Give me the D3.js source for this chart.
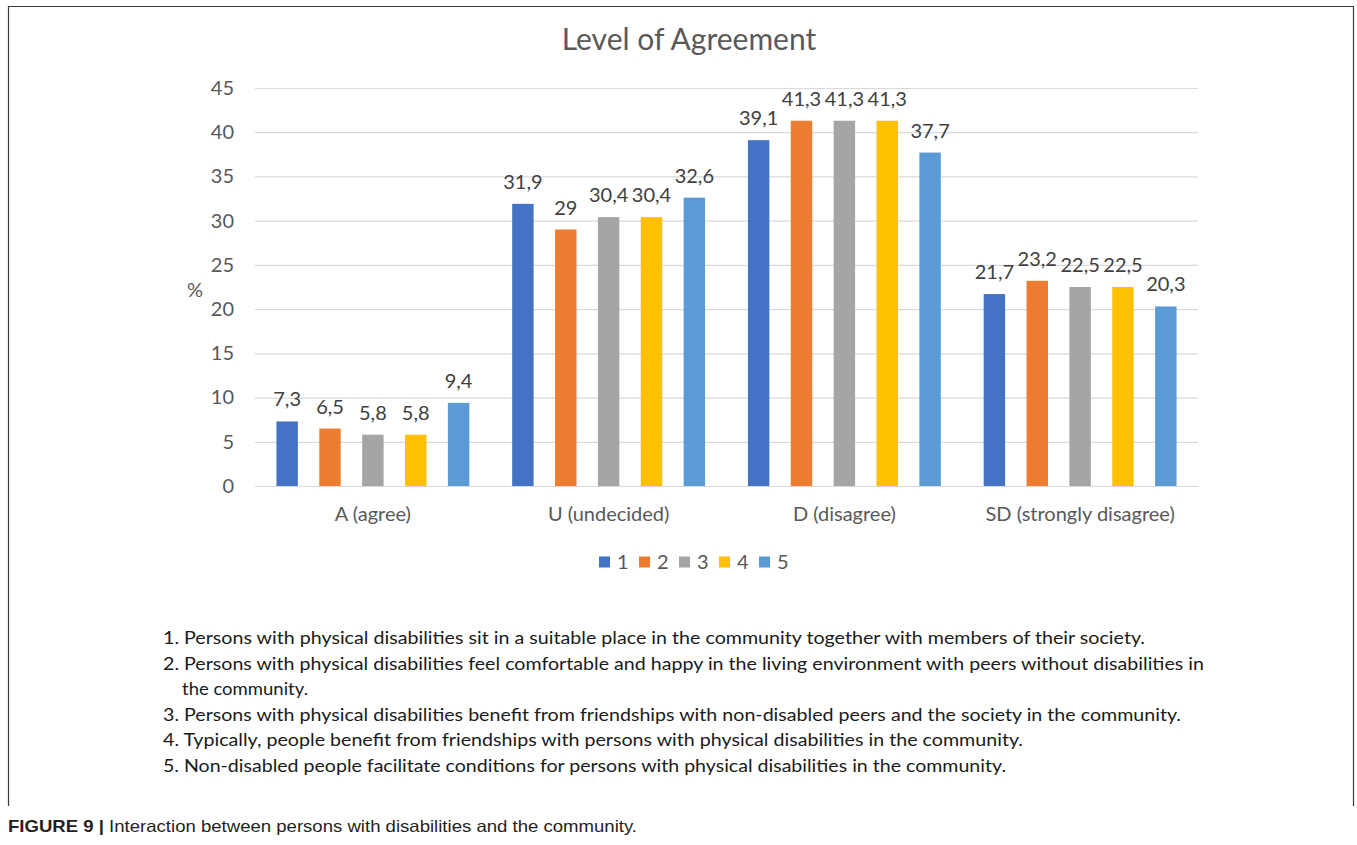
<!DOCTYPE html>
<html>
<head>
<meta charset="utf-8">
<script src="https://cdn.jsdelivr.net/npm/d3@7/dist/d3.min.js"></script>
<style>
  html, body { margin: 0; padding: 0; background: #fff; }
  svg { display: block; }
</style>
</head>
<body>
<script>
// Response categories on the x axis
const categories = ["A (agree)", "U (undecided)", "D (disagree)", "SD (strongly disagree)"];
// Statement numbers (legend / series)
const seriesNames = ["1", "2", "3", "4", "5"];
// Percentages per statement, one value per category
const statement1 = [7.3, 31.9, 39.1, 21.7];
const statement2 = [6.5, 29, 41.3, 23.2];
const statement3 = [5.8, 30.4, 41.3, 22.5];
const statement4 = [5.8, 30.4, 41.3, 22.5];
const statement5 = [9.4, 32.6, 37.7, 20.3];
const yTicks = [0, 5, 10, 15, 20, 25, 30, 35, 40, 45];
const colors = ["#4472C4", "#ED7D31", "#A5A5A5", "#FFC000", "#5B9BD5"];

const statementTexts = [
  ["1. ", "Persons with physical disabilities sit in a suitable place in the community together with members of their society."],
  ["2. ", "Persons with physical disabilities feel comfortable and happy in the living environment with peers without disabilities in"],
  ["", "the community."],
  ["3. ", "Persons with physical disabilities benefit from friendships with non-disabled peers and the society in the community."],
  ["4. ", "Typically, people benefit from friendships with persons with physical disabilities in the community."],
  ["5. ", "Non-disabled people facilitate conditions for persons with physical disabilities in the community."]
];

const series = [statement1, statement2, statement3, statement4, statement5];
const table = categories.map((c, i) => ({
  category: c,
  values: series.map((s, j) => ({ key: seriesNames[j], value: s[i], color: colors[j] }))
}));

const W = 1357, H = 845;
const svg = d3.select("body").append("svg").attr("width", W).attr("height", H);

const FONT = "Lato, 'Open Sans', sans-serif";
const AXIS_COLOR = "#595959";
const LABEL_SIZE = 20;

// Frame around the figure
svg.append("path")
  .attr("d", "M8.5,806 V6.5 H1353.5 V806")
  .attr("fill", "none")
  .attr("stroke", "#3a3a3a")
  .attr("stroke-width", 1.2);

const plot = { left: 255, right: 1198, top: 88, bottom: 486 };

const x0 = d3.scaleBand().domain(categories).range([plot.left, plot.right]).padding(0);
const x1 = d3.scaleBand().domain(seriesNames).range([0, x0.bandwidth()]).paddingInner(0.5).paddingOuter(0.5);
const y = d3.scaleLinear().domain([0, 45]).range([plot.bottom, plot.top]);

// Title
svg.append("text")
  .attr("x", 689).attr("y", 50)
  .attr("text-anchor", "middle")
  .attr("font-family", FONT).attr("font-size", 30)
  .attr("fill", AXIS_COLOR)
  .text("Level of Agreement");

// Y axis with gridlines
const yAxis = svg.append("g")
  .attr("transform", `translate(${plot.left},0)`)
  .call(d3.axisLeft(y).tickValues(yTicks).tickSize(-(plot.right - plot.left)).tickPadding(21));
yAxis.select(".domain").remove();
yAxis.selectAll(".tick line").attr("stroke", "#d9d9d9").attr("stroke-width", 1.2);
yAxis.selectAll(".tick text")
  .attr("font-family", FONT).attr("font-size", LABEL_SIZE).attr("fill", AXIS_COLOR);

// Y axis title
svg.append("text")
  .attr("x", 195).attr("y", 297)
  .attr("text-anchor", "middle")
  .attr("font-family", FONT).attr("font-size", LABEL_SIZE)
  .attr("fill", AXIS_COLOR)
  .text("%");

// Bars
const groups = svg.append("g").selectAll("g")
  .data(table).join("g")
  .attr("transform", d => `translate(${x0(d.category)},0)`);

groups.selectAll("rect")
  .data(d => d.values).join("rect")
  .attr("x", d => x1(d.key))
  .attr("width", x1.bandwidth())
  .attr("y", d => y(d.value))
  .attr("height", d => y(0) - y(d.value))
  .attr("fill", d => d.color);

// Value labels
const fmt = v => String(v).replace(".", ",");
groups.selectAll("text.val")
  .data(d => d.values).join("text")
  .attr("class", "val")
  .attr("x", d => x1(d.key) + x1.bandwidth() / 2)
  .attr("y", d => y(d.value) - 15)
  .attr("text-anchor", "middle")
  .attr("font-family", FONT).attr("font-size", LABEL_SIZE)
  .attr("fill", "#404040")
  .text(d => fmt(d.value));

// X axis category labels
const xAxis = svg.append("g")
  .attr("transform", `translate(0,${plot.bottom})`)
  .call(d3.axisBottom(x0).tickSize(0).tickPadding(21));
xAxis.select(".domain").remove();
xAxis.selectAll(".tick text")
  .attr("font-family", FONT).attr("font-size", LABEL_SIZE).attr("fill", AXIS_COLOR);

// Legend
const legendStep = 40, legendX = 599, legendY = 562;
const legend = svg.append("g").selectAll("g")
  .data(seriesNames).join("g")
  .attr("transform", (d, i) => `translate(${legendX + i * legendStep},${legendY})`);
legend.append("rect")
  .attr("x", 0).attr("y", -5.5).attr("width", 11).attr("height", 11)
  .attr("fill", (d, i) => colors[i]);
legend.append("text")
  .attr("x", 18).attr("y", 7)
  .attr("font-family", FONT).attr("font-size", LABEL_SIZE).attr("fill", AXIS_COLOR)
  .text(d => d);

// Statement descriptions (hanging indent on wrapped line)
const noteStartX = 163, noteIndent = 19, noteTop = 644, noteStep = 25.6;
const noteEnds = [1145, 1204, 308, 1181, 1023, 1006];
const notes = svg.append("g");
statementTexts.forEach((t, i) => {
  const startX = t[0] ? noteStartX : noteStartX + noteIndent;
  notes.append("text")
    .attr("x", startX).attr("y", noteTop + i * noteStep)
    .attr("font-family", FONT).attr("font-size", 18)
    .attr("fill", "#1a1a1a")
    .attr("textLength", noteEnds[i] - startX)
    .attr("lengthAdjust", "spacingAndGlyphs")
    .text(t[0] + t[1]);
});

// Figure caption
const cap = svg.append("text")
  .attr("x", 8).attr("y", 832)
  .attr("font-family", "'Liberation Sans Narrow', 'Liberation Sans', Arial, sans-serif")
  .attr("font-size", 16.5)
  .attr("fill", "#231f20")
  .attr("textLength", 629)
  .attr("lengthAdjust", "spacingAndGlyphs");
cap.append("tspan").attr("font-weight", "bold").text("FIGURE 9 | ");
cap.append("tspan").text("Interaction between persons with disabilities and the community.");
</script>
</body>
</html>
